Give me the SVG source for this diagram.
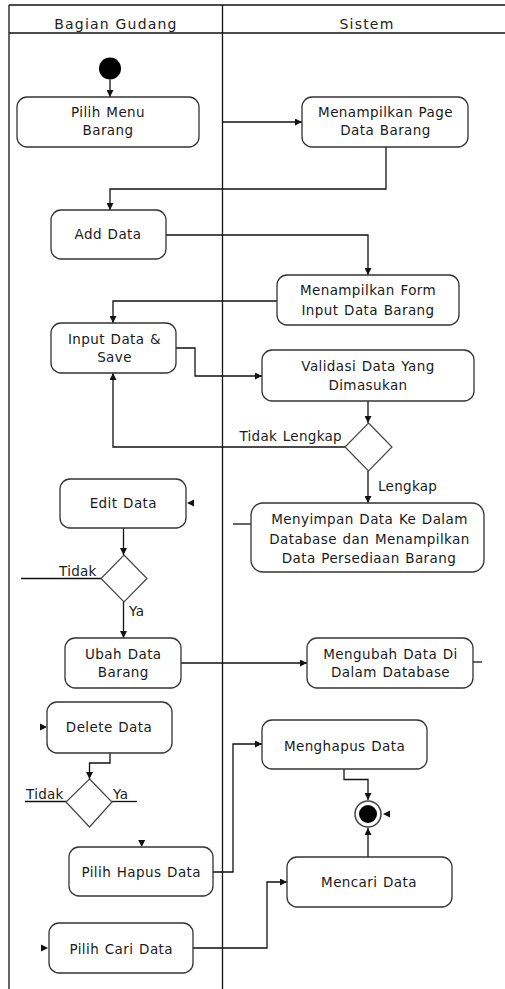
<svg xmlns="http://www.w3.org/2000/svg" width="505" height="989" viewBox="0 0 505 989">
<style>
  .lane{stroke:#111;stroke-width:1.3;fill:none}
  .hdr{font-family:"DejaVu Sans",Verdana,sans-serif;font-size:14px;letter-spacing:1.2px;fill:#222;text-anchor:middle}
  .box{fill:#fff;stroke:#333;stroke-width:1.3}
  .dia{fill:#fff;stroke:#444;stroke-width:1.2}
  .t{font-family:"DejaVu Sans",Verdana,sans-serif;font-size:13.5px;letter-spacing:0.4px;word-spacing:1px;fill:#1a1a1a;text-anchor:middle}
  .lbl{font-family:"DejaVu Sans",Verdana,sans-serif;font-size:13.5px;letter-spacing:0.3px;word-spacing:1px;fill:#1a1a1a}
  .c{fill:none;stroke:#111;stroke-width:1.3}
  .a{marker-end:url(#arr)}
  .head{fill:#111}
</style>
<defs>
  <marker id="arr" viewBox="0 0 10 10" refX="10" refY="5" markerWidth="7" markerHeight="7" markerUnits="userSpaceOnUse" orient="auto">
    <path d="M0,0 L10,5 L0,10 z" fill="#111"/>
  </marker>
</defs>

<g id="swimlanes">
  <line class="lane" x1="9" y1="5" x2="505" y2="5"/>
  <line class="lane" x1="9" y1="33" x2="505" y2="33"/>
  <line class="lane" x1="9" y1="5" x2="9" y2="989"/>
  <line class="lane" x1="222.5" y1="5" x2="222.5" y2="989"/>
  <text class="hdr" x="116" y="29">Bagian Gudang</text>
  <text class="hdr" x="367" y="29">Sistem</text>
</g>

<g id="connectors">
  <path class="c a" d="M110,79.5 L110,97"/>
  <path class="c a" d="M222.5,122 L302,122"/>
  <path class="c a" d="M386,147 L386,189 L110,189 L110,210"/>
  <path class="c a" d="M166,235 L368,235 L368,275"/>
  <path class="c a" d="M277,301 L113,301 L113,323"/>
  <path class="c a" d="M176,348 L195,348 L195,376 L262,376"/>
  <path class="c a" d="M368,401 L368,423"/>
  <path class="c a" d="M345,447 L113,447 L113,373"/>
  <path class="c a" d="M368,471 L368,503"/>
  <path class="c a" d="M123.5,528 L123.5,555"/>
  <path class="c" d="M101,578.5 L21,578.5"/>
  <path class="c a" d="M123.5,602 L123.5,638"/>
  <path class="c a" d="M181,663 L307,663"/>
  <path class="c" d="M473,662 L482,662"/>
  <path class="c" d="M233,524 L251,524"/>
  <path class="c a" d="M110,753 L110,763 L89.5,763 L89.5,779"/>
  <path class="c" d="M66,801.5 L25,801.5"/>
  <path class="c" d="M112,801.5 L137,801.5"/>
  <path class="c a" d="M213,872 L233,872 L233,744 L262,744"/>
  <path class="c a" d="M344,769 L344,779.5 L368,779.5 L368,800"/>
  <path class="c a" d="M368,857 L368,828"/>
  <path class="c a" d="M193,948 L267,948 L267,882 L287,882"/>
  <path class="head" d="M187,503 L194,499.5 L194,506.5 z"/>
  <path class="head" d="M47,727 L40,723.5 L40,730.5 z"/>
  <path class="head" d="M141.7,847 L138.2,840 L145.2,840 z"/>
  <path class="head" d="M383,814 L390,810.5 L390,817.5 z"/>
  <path class="head" d="M48,948 L41,944.5 L41,951.5 z"/>
  <text class="lbl" x="342" y="441" text-anchor="end">Tidak Lengkap</text>
  <text class="lbl" x="378" y="491">Lengkap</text>
  <text class="lbl" x="59" y="576">Tidak</text>
  <text class="lbl" x="129" y="616">Ya</text>
  <text class="lbl" x="26" y="799">Tidak</text>
  <text class="lbl" x="113" y="799">Ya</text>
</g>

<g id="start">
  <circle cx="110" cy="68.5" r="11" fill="#000"/>
</g>

<g id="pilih-menu">
  <rect class="box" x="17" y="97" width="182" height="50" rx="10"/>
  <text class="t" x="108" y="117.3">Pilih Menu</text>
  <text class="t" x="108" y="134.5">Barang</text>
</g>

<g id="page-barang">
  <rect class="box" x="302" y="97" width="166" height="50" rx="10"/>
  <text class="t" x="385.5" y="117.3">Menampilkan Page</text>
  <text class="t" x="385.5" y="134.5">Data Barang</text>
</g>

<g id="add-data">
  <rect class="box" x="51" y="210" width="115" height="49" rx="10"/>
  <text class="t" x="108" y="239.3">Add Data</text>
</g>

<g id="form-input">
  <rect class="box" x="277" y="275" width="182" height="50" rx="10"/>
  <text class="t" x="368" y="295.3">Menampilkan Form</text>
  <text class="t" x="368" y="315">Input Data Barang</text>
</g>

<g id="input-save">
  <rect class="box" x="51" y="323" width="125" height="50" rx="10"/>
  <text class="t" x="114.5" y="344.3">Input Data &amp;</text>
  <text class="t" x="114.5" y="362">Save</text>
</g>

<g id="validasi">
  <rect class="box" x="262" y="350" width="212" height="51" rx="10"/>
  <text class="t" x="368" y="371">Validasi Data Yang</text>
  <text class="t" x="368" y="390">Dimasukan</text>
</g>

<g id="decision-lengkap">
  <path class="dia" d="M368.5,423 L392,447 L368.5,471 L345,447 z"/>
</g>

<g id="edit-data">
  <rect class="box" x="60" y="479" width="126" height="49" rx="10"/>
  <text class="t" x="123.3" y="508">Edit Data</text>
</g>

<g id="menyimpan">
  <rect class="box" x="251" y="503" width="233" height="69" rx="12"/>
  <text class="t" x="369.5" y="524">Menyimpan Data Ke Dalam</text>
  <text class="t" x="369.5" y="543.5">Database dan Menampilkan</text>
  <text class="t" x="369" y="563.3">Data Persediaan Barang</text>
</g>

<g id="decision-edit">
  <path class="dia" d="M124,555 L147,578.5 L124,602 L101,578.5 z"/>
</g>

<g id="ubah-data">
  <rect class="box" x="65" y="638" width="116" height="50" rx="10"/>
  <text class="t" x="123.3" y="658.7">Ubah Data</text>
  <text class="t" x="123.3" y="676.7">Barang</text>
</g>

<g id="mengubah">
  <rect class="box" x="307" y="638" width="166" height="50" rx="10"/>
  <text class="t" x="390.5" y="658.7">Mengubah Data Di</text>
  <text class="t" x="390.5" y="676.7">Dalam Database</text>
</g>

<g id="delete-data">
  <rect class="box" x="47" y="702" width="125" height="51" rx="10"/>
  <text class="t" x="109" y="732.3">Delete Data</text>
</g>

<g id="menghapus">
  <rect class="box" x="262" y="720" width="165" height="49" rx="10"/>
  <text class="t" x="344.5" y="751">Menghapus Data</text>
</g>

<g id="decision-delete">
  <path class="dia" d="M89.5,779 L112,802 L89.5,827 L66,802 z"/>
</g>

<g id="end">
  <circle cx="368" cy="814" r="13" fill="#fff" stroke="#444" stroke-width="1.5"/>
  <circle cx="368" cy="814" r="9" fill="#000"/>
</g>

<g id="pilih-hapus">
  <rect class="box" x="69" y="847" width="144" height="49" rx="10"/>
  <text class="t" x="141.2" y="877">Pilih Hapus Data</text>
</g>

<g id="mencari">
  <rect class="box" x="287" y="857" width="165" height="50" rx="10"/>
  <text class="t" x="369" y="886.7">Mencari Data</text>
</g>

<g id="pilih-cari">
  <rect class="box" x="49" y="923" width="144" height="50" rx="10"/>
  <text class="t" x="121.2" y="953.7">Pilih Cari Data</text>
</g>
</svg>
